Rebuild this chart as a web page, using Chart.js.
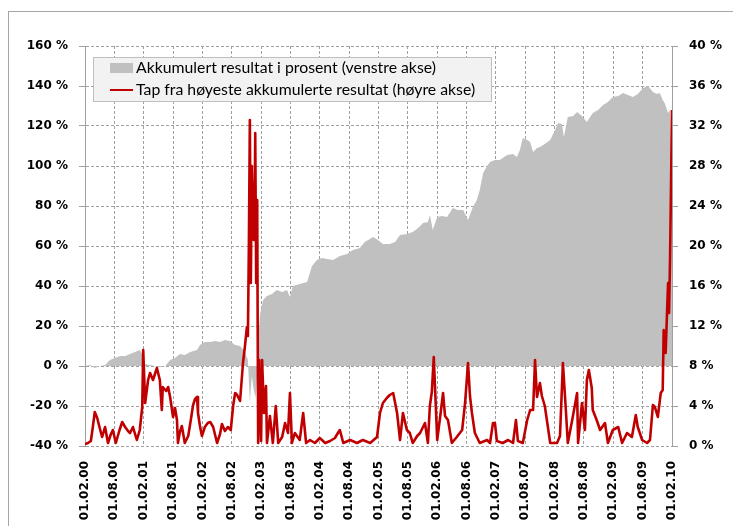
<!DOCTYPE html>
<html>
<head>
<meta charset="utf-8">
<script src="https://cdn.jsdelivr.net/npm/chart.js@4.4.1/dist/chart.umd.min.js"></script>
<style>
  html, body { margin: 0; padding: 0; background: #fff; overflow: hidden; }
  #frame { position: absolute; left: 8px; top: 11px; width: 760px; height: 560px; border: 1px solid #a6a6a6; }
  #chart { position: absolute; left: 0; top: 0; }
</style>
</head>
<body>
<div id="frame"></div>
<canvas id="chart" width="733" height="526"></canvas>
<script>
// x values are months after 01.02.2000
const xTickLabels = [
  '01.02.00', '01.08.00', '01.02.01', '01.08.01', '01.02.02', '01.08.02', '01.02.03',
  '01.08.03', '01.02.04', '01.08.04', '01.02.05', '01.08.05', '01.02.06', '01.08.06',
  '01.02.07', '01.08.07', '01.02.08', '01.08.08', '01.02.09', '01.08.09', '01.02.10'
]

const legendLabels = [
  'Akkumulert resultat i prosent (venstre akse)',
  'Tap fra høyeste akkumulerte resultat (høyre akse)'
]

// Akkumulert resultat (venstre akse, %)
const accMonths = [
  0, 1.0, 2.0, 3.1, 4.1, 5.1, 6.1, 7.2, 8.2, 9.2,
  10.2, 11.2, 11.7, 12.3, 13.3, 14.3, 15.3, 16.4, 17.4, 18.4,
  19.4, 20.4, 21.5, 22.9, 23.5, 24.5, 25.6, 26.6, 27.6, 28.6,
  29.6, 30.7, 31.7, 32.7, 33.3, 33.7, 34.1, 34.5, 34.9, 35.2,
  35.4, 35.8, 36.4, 37.2, 38.2, 39.2, 40.3, 41.3, 41.9, 42.5,
  43.9, 45.4, 46.4, 47.4, 48.4, 49.5, 50.7, 52.1, 53.6, 54.8,
  56.2, 57.2, 58.9, 59.9, 60.9, 62.3, 63.4, 64.4, 65.8, 67.0,
  68.1, 69.1, 70.1, 70.5, 71.1, 72.0, 73.0, 74.0, 75.2, 76.2,
  77.3, 78.3, 79.3, 80.1, 80.7, 81.4, 82.2, 82.8, 83.8, 84.8,
  86.3, 87.5, 88.3, 88.9, 89.5, 90.4, 91.0, 91.6, 92.4, 93.0,
  94.0, 95.1, 96.1, 96.7, 97.5, 97.9, 98.7, 99.8, 100.6, 101.6,
  102.6, 103.8, 104.9, 105.9, 106.9, 107.9, 109.0, 110.0, 111.0, 112.0,
  113.0, 114.1, 115.1, 116.1, 116.9, 117.5, 118.1, 118.5, 119.2, 119.6,
  119.8, 120.0
]
const accValues = [
  0, 0.5, -1, 0, 0.5, 3, 4, 5, 5, 6,
  7, 8, 6, 1, 0.5, 0, -0.5, 0, 3, 4,
  6, 5.5, 7, 8, 10.5, 12, 12, 12.5, 12, 13,
  12.5, 10.5, 10, 7, 3, -18, -5, -12, -16, -5,
  14, 26, 33, 35, 36, 38, 37, 38, 34.5, 40,
  41, 42, 50, 53, 54, 53.5, 53, 55, 56, 58,
  59, 62, 64.5, 63, 61, 61, 62, 65.5, 66, 67,
  69, 71.5, 72, 75.5, 68, 74.5, 75, 74.5, 79, 78,
  78, 73, 79.5, 83, 88, 96.5, 100, 102, 103, 103,
  105.5, 106, 104.5, 108, 114, 113, 112, 107, 109, 109.5,
  111, 113, 118, 121.5, 121, 114.5, 124.5, 125, 127, 125,
  122, 126.5, 128, 130.5, 132, 134.5, 135, 136.5, 135.5, 134.5,
  136, 139, 140, 137, 136, 136.5, 133, 131.5, 126.5, 128,
  100, 59
]

// Tap fra toppen (høyre akse, %)
const ddMonths = [
  0, 0.6, 1.2, 1.6, 2.0, 2.5, 2.9, 3.5, 4.1, 4.7,
  5.3, 5.7, 6.3, 7.0, 7.6, 8.2, 8.8, 9.2, 9.8, 10.6,
  11.2, 11.7, 11.9, 12.3, 12.9, 13.3, 13.9, 14.3, 14.7, 15.3,
  15.7, 15.9, 16.6, 17.0, 17.4, 18.0, 18.4, 18.8, 19.0, 19.4,
  19.8, 20.4, 21.1, 21.5, 22.1, 22.5, 22.9, 23.1, 23.5, 23.9,
  24.5, 25.1, 25.6, 26.2, 27.0, 27.6, 28.0, 28.6, 29.2, 29.8,
  30.3, 30.7, 31.1, 31.7, 32.3, 32.7, 33.1, 33.3, 33.5, 33.7,
  33.9, 34.1, 34.5, 34.7, 34.8, 35.0, 35.2, 35.4, 35.6, 36.0,
  36.2, 36.6, 37.0, 37.2, 37.8, 38.4, 39.0, 39.5, 40.3, 40.9,
  41.5, 41.9, 42.3, 42.9, 43.9, 44.6, 45.2, 46.0, 47.0, 48.0,
  49.1, 50.1, 51.1, 51.7, 52.1, 52.8, 54.2, 55.6, 56.8, 58.3,
  59.7, 60.3, 60.9, 61.7, 62.3, 63.0, 63.8, 64.4, 65.0, 65.8,
  66.4, 67.0, 67.9, 68.5, 69.5, 70.1, 70.5, 70.9, 71.3, 72.0,
  72.6, 73.2, 73.6, 74.2, 75.0, 76.0, 77.1, 77.7, 78.3, 78.7,
  79.1, 79.7, 80.7, 82.2, 82.8, 83.4, 83.8, 84.2, 85.4, 86.5,
  87.5, 88.1, 88.5, 89.5, 90.4, 91.0, 91.6, 92.0, 92.4, 93.0,
  93.4, 94.0, 94.6, 95.1, 96.5, 97.1, 97.7, 98.3, 98.7, 99.6,
  100.6, 100.8, 101.6, 102.2, 102.6, 103.0, 103.6, 103.8, 104.6, 105.3,
  106.3, 106.9, 107.9, 109.0, 109.8, 110.8, 111.8, 112.6, 113.0, 113.9,
  114.9, 115.5, 116.1, 116.5, 117.1, 117.7, 118.1, 118.3, 118.7, 119.2,
  119.4, 119.6, 119.8, 120.0
]
const ddValues = [
  0.2, 0.3, 0.5, 1.9, 3.4, 2.8, 2.0, 0.9, 1.9, 0.3,
  1.2, 1.6, 0.3, 1.5, 2.4, 1.9, 1.5, 1.3, 1.9, 0.6,
  1.6, 3.9, 9.6, 4.3, 6.6, 7.3, 6.6, 7.2, 7.8, 6.6,
  3.6, 5.9, 5.5, 5.9, 4.9, 2.9, 3.8, 2.6, 0.3, 1.4,
  2.0, 0.3, 1.0, 2.2, 4.1, 4.7, 4.9, 3.3, 2.0, 1.0,
  1.9, 2.3, 2.4, 1.9, 0.3, 1.2, 2.2, 1.5, 1.9, 1.6,
  4.1, 5.3, 5.1, 4.5, 8.3, 10, 11.9, 11, 20, 32.6,
  16.3, 28, 20.6, 24, 31.3, 16.3, 24.6, 0.3, 8.6, 0.5,
  8.6, 3.3, 6.0, 0.3, 3.0, 0.3, 4.0, 0.3, 0.9, 2.3,
  1.3, 5.3, 0.3, 1.3, 0.6, 3.3, 0.3, 0.6, 0.3, 0.8,
  0.3, 0.5, 0.8, 1.3, 1.6, 0.3, 0.6, 0.3, 0.6, 0.3,
  0.9, 3.3, 4.3, 4.8, 5.1, 5.3, 3.3, 0.6, 3.3, 1.6,
  1.3, 0.3, 1.0, 1.3, 2.3, 0.3, 4.0, 5.4, 8.9, 0.6,
  2.9, 5.3, 3.0, 2.6, 0.3, 0.9, 1.6, 4.3, 8.3, 5.0,
  3.3, 1.3, 0.3, 0.6, 0.3, 2.3, 2.3, 0.5, 0.3, 0.6,
  0.3, 2.6, 0.5, 0.3, 2.6, 3.6, 3.6, 8.6, 4.9, 6.3,
  5.0, 4.0, 2.0, 0.3, 0.3, 1.0, 8.3, 3.6, 0.3, 2.6,
  5.3, 0.3, 4.3, 1.6, 6.6, 7.6, 5.8, 3.6, 2.6, 1.6,
  2.3, 0.3, 1.6, 1.9, 0.3, 1.3, 0.9, 3.1, 1.9, 0.6,
  0.3, 0.6, 4.1, 3.9, 2.9, 5.3, 5.6, 11.6, 9.3, 16.3,
  13.3, 18.6, 26, 33.6
]

const accColor = '#c0c0c0'
const ddColor = '#c00000'
const gridColor = '#a0a0a0'
const tickFont = { family: 'DejaVu Sans', size: 12, weight: 'bold' }

const legendBox = {
  id: 'legendBox',
  afterDraw(chart) {
    const ctx = chart.ctx
    const x0 = chart.chartArea.left + 8
    const y0 = chart.chartArea.top + 11
    ctx.save()
    ctx.fillStyle = '#f2f2f2'
    ctx.strokeStyle = '#bfbfbf'
    ctx.lineWidth = 1
    ctx.fillRect(x0 + 0.5, y0 + 0.5, 398, 44)
    ctx.strokeRect(x0 + 0.5, y0 + 0.5, 398, 44)
    ctx.fillStyle = accColor
    ctx.fillRect(x0 + 17, y0 + 6, 23, 10)
    ctx.strokeStyle = ddColor
    ctx.lineWidth = 2
    ctx.beginPath()
    ctx.moveTo(x0 + 17, y0 + 33)
    ctx.lineTo(x0 + 40, y0 + 33)
    ctx.stroke()
    ctx.fillStyle = '#000'
    ctx.font = '15.8px Lato'
    ctx.textBaseline = 'middle'
    ctx.fillText(legendLabels[0], x0 + 43, y0 + 11)
    ctx.fillText(legendLabels[1], x0 + 43, y0 + 33)
    ctx.restore()
  }
}

const ctx = document.getElementById('chart').getContext('2d')

new Chart(ctx, {
  type: 'line',
  data: {
    datasets: [
      {
        label: legendLabels[1],
        data: ddMonths.map((m, i) => ({ x: m, y: ddValues[i] })),
        yAxisID: 'y1',
        borderColor: ddColor,
        borderWidth: 2.6,
        borderJoinStyle: 'round',
        pointRadius: 0,
        tension: 0,
        fill: false,
        order: 1
      },
      {
        label: legendLabels[0],
        data: accMonths.map((m, i) => ({ x: m, y: accValues[i] })),
        yAxisID: 'y',
        backgroundColor: accColor,
        borderColor: accColor,
        borderWidth: 0,
        pointRadius: 0,
        tension: 0,
        fill: 'origin',
        order: 2
      }
    ]
  },
  options: {
    responsive: false,
    animation: false,
    devicePixelRatio: 1,
    layout: { padding: { top: 46 } },
    plugins: {
      legend: { display: false },
      tooltip: { enabled: false }
    },
    scales: {
      x: {
        type: 'linear',
        min: 0,
        max: 120,
        afterFit: s => { s.height = 80 },
        ticks: {
          stepSize: 6,
          autoSkip: false,
          minRotation: 90,
          maxRotation: 90,
          padding: 15,
          color: '#000',
          font: tickFont,
          callback: v => xTickLabels[Math.round(v / 6)]
        },
        grid: { color: gridColor, drawTicks: false },
        border: { display: false, dash: [3, 2] }
      },
      y: {
        position: 'left',
        min: -40,
        max: 160,
        afterFit: s => { s.width = 85 },
        ticks: {
          stepSize: 20,
          padding: 11,
          color: '#000',
          font: tickFont,
          callback: v => v + ' %'
        },
        grid: { color: gridColor, tickLength: 6, tickColor: gridColor },
        border: { display: true, color: gridColor, dash: [3, 2] }
      },
      y1: {
        position: 'right',
        min: 0,
        max: 40,
        afterFit: s => { s.width = 61 },
        ticks: {
          stepSize: 4,
          padding: 11,
          color: '#000',
          font: tickFont,
          callback: v => v + ' %'
        },
        grid: { drawOnChartArea: false, tickLength: 6, tickColor: gridColor },
        border: { display: true, color: gridColor }
      }
    }
  },
  plugins: [legendBox]
})
</script>
</body>
</html>
